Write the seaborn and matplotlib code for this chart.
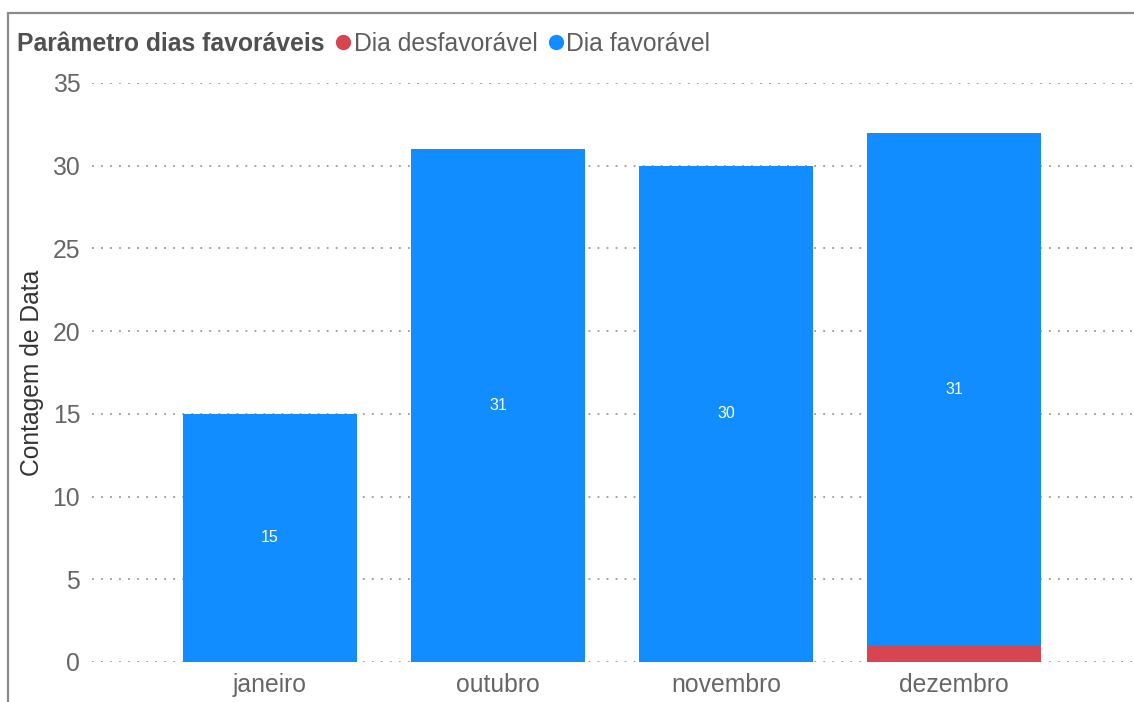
import matplotlib
matplotlib.use('Agg')
import matplotlib.pyplot as plt
from matplotlib.lines import Line2D
import seaborn as sns
import pandas as pd

# Dados
meses = ['janeiro', 'outubro', 'novembro', 'dezembro']
dia_favoravel = [15, 31, 30, 31]
dia_desfavoravel = [0, 0, 0, 1]

cor_fav = '#118DFF'
cor_desfav = '#D64550'

df = pd.DataFrame({'mes': meses, 'fav': dia_favoravel, 'desfav': dia_desfavoravel})
df['total'] = df['fav'] + df['desfav']

sns.set_style('white')
plt.rcParams['font.family'] = ['Liberation Sans', 'DejaVu Sans']

fig = plt.figure(figsize=(11.34, 7.02), dpi=100)
ax = fig.add_axes([0.0811, 0.057, 0.919, 0.8248])

# barras empilhadas: total (azul) e desfavoráveis por baixo (vermelho)
sns.barplot(data=df, x='mes', y='total', color=cor_fav, width=0.763,
            saturation=1, linewidth=0, ax=ax, zorder=3)
sns.barplot(data=df, x='mes', y='desfav', color=cor_desfav, width=0.763,
            saturation=1, linewidth=0, ax=ax, zorder=4)

# rótulos no meio do segmento favorável
for i, row in df.iterrows():
    ax.text(i, row['desfav'] + row['fav'] / 2, f"{row['fav']}", ha='center', va='center',
            color='white', fontsize=11.5, zorder=5)

ax.set_ylim(0, 35)
ax.set_xlim(-0.78, 3.79)
ax.set_yticks(range(0, 36, 5))
ax.yaxis.grid(True, linestyle=(0, (1, 4)), color='#999999', linewidth=1.3, zorder=0)
ax.xaxis.grid(False)
for s in ax.spines.values():
    s.set_visible(False)
ax.tick_params(axis='both', length=0, labelsize=17.8, labelcolor='#666666')
ax.tick_params(axis='y', pad=8.5)
ax.tick_params(axis='x', pad=8)
ax.set_xlabel('')
ax.set_ylabel('Contagem de Data', fontsize=17.7, color='#333333')
ax.yaxis.set_label_coords(-0.046, 0.5)

# legenda no topo
fig.text(17 / 1134, 1 - 44 / 702, 'Parâmetro dias favoráveis', fontsize=17.8,
         fontweight='bold', color='#505050', ha='left', va='center')
handles = [Line2D([], [], marker='o', linestyle='', color=cor_desfav, markersize=10),
           Line2D([], [], marker='o', linestyle='', color=cor_fav, markersize=10)]
fig.legend(handles, ['Dia desfavorável', 'Dia favorável'], loc='center left',
           bbox_to_anchor=(336 / 1134, 1 - 44 / 702), ncol=2, frameon=False,
           fontsize=17.8, labelcolor='#605E5C', handlelength=0.6, handletextpad=0.12,
           columnspacing=0.45, borderpad=0, borderaxespad=0)

# moldura
fig.add_artist(Line2D([7.5 / 1134, 7.5 / 1134], [0, 1 - 12.5 / 702], color='#8A8A8A',
                      linewidth=1.6, transform=fig.transFigure))
fig.add_artist(Line2D([7.5 / 1134, 1], [1 - 12.5 / 702, 1 - 12.5 / 702], color='#8A8A8A',
                      linewidth=1.6, transform=fig.transFigure))

fig.savefig('out.png', dpi=100)
